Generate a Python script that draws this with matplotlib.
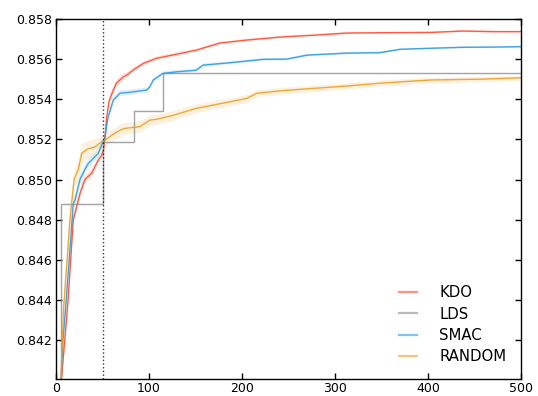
import matplotlib
matplotlib.use("Agg")
import matplotlib.pyplot as plt
import numpy as np

# ---- data ----
kdo_x = [1, 3, 6, 13, 18.6, 25.8, 31, 38.4, 45.5, 49, 51, 52.7, 54.5, 57, 61.6, 65, 72.4, 76, 83, 94, 108, 130, 151,
         176, 205, 241, 280, 313, 360, 402, 438, 470, 500]
kdo_y = [0.8370, 0.8390, 0.8401, 0.8440, 0.8480, 0.8493, 0.8500, 0.85032, 0.85097, 0.8512, 0.85147, 0.85213, 0.85310,
         0.8539, 0.85446, 0.8548, 0.85512, 0.8552, 0.85546, 0.85579, 0.85604, 0.85625, 0.85645,
         0.8568, 0.85695, 0.8571, 0.8572, 0.8573, 0.85732, 0.85733, 0.8574, 0.85737, 0.85737]
kdo_err = [0.0003, 0.0003, 0.0003, 0.0003, 0.00025, 0.00022, 0.0002, 0.0002, 0.0002, 0.0002, 0.0002, 0.0002, 0.0002,
           0.0002, 0.0002, 0.0002, 0.00018, 0.00015, 0.00012, 0.0001, 0.0001, 0.00009, 0.00008,
           0.00007, 0.00007, 0.00006, 0.00006, 0.00006, 0.00005, 0.00005, 0.00005, 0.00005, 0.00005]

smac_x = [1, 3, 5.4, 7.5, 11, 18.6, 20.4, 25.8, 31, 34.7, 40, 45.5, 49, 52.7, 54.5, 56, 61.6, 68.8, 83, 97.5, 101,
          104.6, 115, 130, 144, 151, 158, 187, 223, 248, 270, 313, 348, 370, 402, 438, 470, 500]
smac_y = [0.8370, 0.8390, 0.8401, 0.8420, 0.8440, 0.8488, 0.84897, 0.8500, 0.8505, 0.8508, 0.85105, 0.8513, 0.85172,
          0.8521, 0.8527, 0.8531, 0.85396, 0.8543, 0.85437, 0.85446, 0.85463,
          0.85496, 0.85529, 0.85537, 0.85542, 0.85545, 0.8557, 0.85582, 0.85599, 0.8560, 0.8562, 0.8563, 0.85632,
          0.85649, 0.85654, 0.85659, 0.8566, 0.85662]
smac_err = [0.0003, 0.0003, 0.0003, 0.0003, 0.0003, 0.0003, 0.0003, 0.00028, 0.00025, 0.00022, 0.0002, 0.0002,
            0.00018, 0.00018, 0.00016, 0.00015, 0.00015, 0.00015, 0.00014, 0.00014, 0.00013,
            0.00012, 0.0001, 0.0001, 0.00009, 0.00009, 0.00008, 0.00008, 0.00007, 0.00007, 0.00006, 0.00006,
            0.00006, 0.00005, 0.00005, 0.00005, 0.00005, 0.00005]

rand_x = [1, 3, 5.4, 8, 15, 19.4, 24, 27.6, 33, 42, 49, 52.7, 60, 68.8, 74, 90, 101, 108, 126, 151, 169, 205,
          216, 241, 276, 313, 348, 402, 456, 500]
rand_y = [0.8370, 0.8390, 0.8401, 0.8435, 0.8480, 0.8500, 0.8505, 0.8513, 0.8515, 0.85163, 0.85188, 0.85196,
          0.85221, 0.85246, 0.85255, 0.85263, 0.85296, 0.85300, 0.8532, 0.85355, 0.85371, 0.85404,
          0.8543, 0.85442, 0.85454, 0.85466, 0.8548, 0.85496, 0.8550, 0.85507]
rand_err = [0.0004, 0.0004, 0.0004, 0.0004, 0.0005, 0.0005, 0.0005, 0.0005, 0.00045, 0.0004, 0.00035, 0.00032,
            0.0003, 0.0003, 0.0003, 0.00028, 0.00026, 0.00025, 0.00024, 0.00022, 0.0002, 0.0002,
            0.00018, 0.00017, 0.00016, 0.00015, 0.00015, 0.00014, 0.00013, 0.00012]

lds_x = [1, 5, 50, 84.2, 115.4, 500]
lds_y = [0.8400, 0.84876, 0.85187, 0.85341, 0.85532, 0.85532]

xlim = (0, 500)
ylim = (0.84006, 0.858)
xticks = [0, 100, 200, 300, 400, 500]
yticks = [0.842, 0.844, 0.846, 0.848, 0.850, 0.852, 0.854, 0.856, 0.858]
vline_x = 50

colors = {"KDO": "#ff4b30", "LDS": "#8c8c8c", "SMAC": "#2b9be0", "RANDOM": "#eba024"}

# ---- figure ----
fig = plt.figure(figsize=(5.38, 3.96), dpi=100)
ax = fig.add_axes([56 / 538, 1 - 379 / 396, 465 / 538, 360 / 396])

def band(x, y, e, c):
    x = np.asarray(x); y = np.asarray(y); e = np.asarray(e)
    ax.fill_between(x, y - e, y + e, color=c, alpha=0.15, linewidth=0)

band(kdo_x, kdo_y, kdo_err, colors["KDO"])
band(smac_x, smac_y, smac_err, colors["SMAC"])
band(rand_x, rand_y, rand_err, colors["RANDOM"])

ax.plot(kdo_x, kdo_y, color=colors["KDO"], lw=1.0, alpha=0.9, label="KDO")
ax.step(lds_x, lds_y, where="post", color=colors["LDS"], lw=1.0, alpha=0.8, label="LDS")
ax.plot(smac_x, smac_y, color=colors["SMAC"], lw=1.0, alpha=0.9, label="SMAC")
ax.plot(rand_x, rand_y, color=colors["RANDOM"], lw=1.0, alpha=0.9, label="RANDOM")

ax.axvline(vline_x, color="black", ls=":", lw=1.0, alpha=0.8)

ax.set_xlim(*xlim)
ax.set_ylim(*ylim)
ax.set_xticks(xticks)
ax.set_yticks(yticks)
ax.set_yticklabels([f"{v:.3f}" for v in yticks])
ax.tick_params(direction="in", top=True, right=True, length=4, width=1, labelsize=9)
ax.tick_params(axis="x", pad=2)
ax.tick_params(axis="y", pad=3)
for s in ax.spines.values():
    s.set_linewidth(1.0)

leg = ax.legend(loc="lower right", frameon=False, fontsize=10.7, handlelength=1.2,
                handletextpad=1.5, labelspacing=0.42, borderaxespad=0.6)
for h in leg.get_lines():
    h.set_linewidth(1.6)
    h.set_alpha(0.6)

fig.savefig("out.png", dpi=100)
